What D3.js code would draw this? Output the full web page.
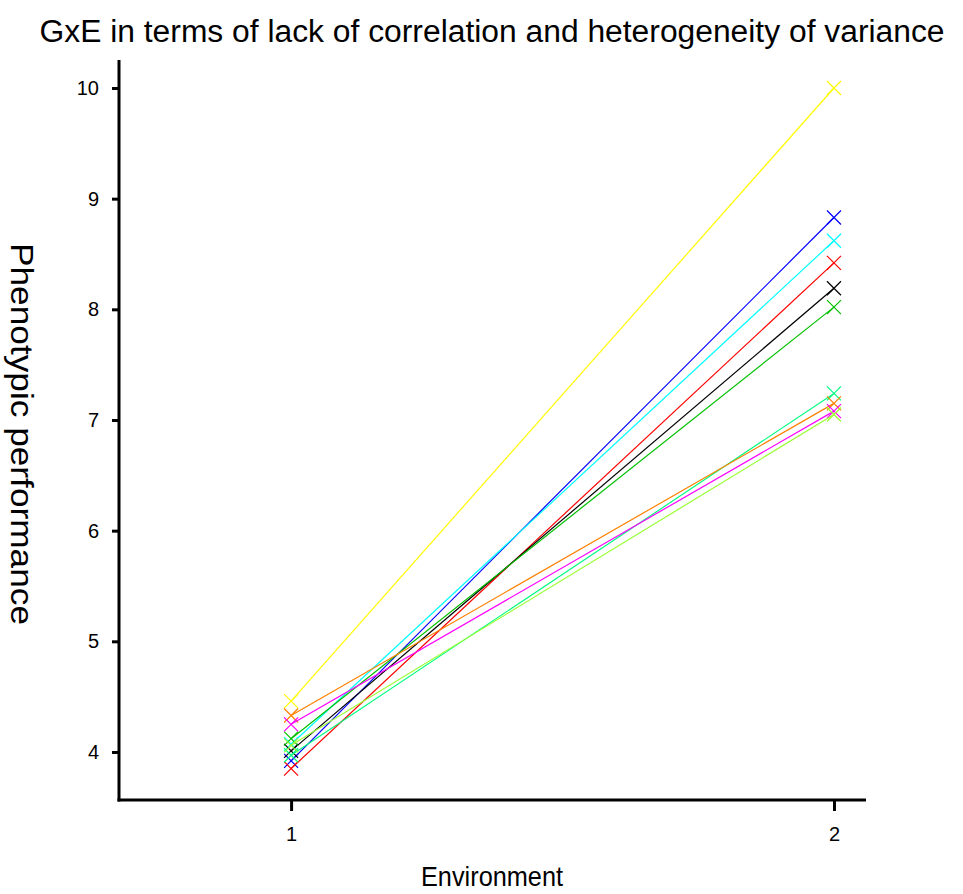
<!DOCTYPE html>
<html><head><meta charset="utf-8">
<script src="https://cdn.jsdelivr.net/npm/d3@7"></script>
<style>body{margin:0;background:#fff}svg{display:block}text{font-family:"Liberation Sans Narrow","Liberation Sans",Arial,sans-serif}</style>
</head><body>
<svg id="c" width="963" height="894"></svg>
<script>
const environments = [1, 2];
const genotypes = ["G1","G2","G3","G4","G5","G6","G7","G8","G9","G10"];
const colors = ["#ffff00","#0000ff","#00ffff","#ff0000","#000000","#00c000","#00ff80","#ff8000","#ff00ff","#99ff33"];
const env1Values = [4.46, 3.92, 4.07, 3.85, 4.01, 4.12, 3.97, 4.33, 4.25, 4.06];
const env2Values = [10.0, 8.83, 8.62, 8.42, 8.19, 8.02, 7.24, 7.15, 7.08, 7.05];
const yTicks = [4,5,6,7,8,9,10];
const xTicks = [1,2];
const title = "GxE in terms of lack of correlation and heterogeneity of variance";
const xLabel = "Environment";
const yLabel = "Phenotypic performance";

const svg = d3.select("#c");
const x = d3.scaleLinear().domain([0.683, 2.059]).range([119, 866]);
const y = d3.scaleLinear().domain([3.566, 10.253]).range([800, 60]);

const yAxis = svg.append("g").attr("transform","translate(119,0)")
  .call(d3.axisLeft(y).tickValues(yTicks).tickSize(7).tickPadding(13).tickFormat(d3.format("d")));
const xAxis = svg.append("g").attr("transform","translate(0,800)")
  .call(d3.axisBottom(x).tickValues(xTicks).tickSize(11).tickPadding(16).tickFormat(d3.format("d")));
[yAxis, xAxis].forEach(a=>{
  a.attr("font-size", null).attr("font-family", null);
  a.select(".domain").attr("stroke","#000").attr("stroke-width",3);
  a.selectAll(".tick line").attr("stroke","#000").attr("stroke-width",3);
  a.selectAll(".tick text").style("font-size","20px").style("font-family","Arial, 'Liberation Sans', sans-serif").attr("fill","#000");
});
yAxis.select(".domain").attr("d", `M0,${y.range()[0]+1.5}V${y.range()[1]}`);
xAxis.select(".domain").attr("d", `M${x.range()[0]-1.5},0H${x.range()[1]}`);

const data = genotypes.map((g,i)=>({g, color: colors[i], vals: [env1Values[i], env2Values[i]]}));
const line = d3.line().x((d,j)=>x(environments[j])).y(d=>y(d));
const gl = svg.append("g");
data.forEach(d=>{
  gl.append("path").attr("d", line(d.vals)).attr("fill","none").attr("stroke", d.color).attr("stroke-width",1.2);
  d.vals.forEach((v,j)=>{
    const cx = x(environments[j]), cy = y(v), s = 7;
    gl.append("path").attr("d",`M${cx-s},${cy-s}L${cx+s},${cy+s}M${cx-s},${cy+s}L${cx+s},${cy-s}`)
      .attr("stroke", d.color).attr("stroke-width",1.2).attr("fill","none");
  });
});

svg.append("text").attr("x", 492).attr("y", 42).attr("text-anchor","middle")
  .style("font-size","31px").attr("textLength", 905).attr("lengthAdjust","spacingAndGlyphs").text(title);
svg.append("text").attr("x", 492).attr("y", 886).attr("text-anchor","middle")
  .style("font-size","28px").attr("textLength", 142).attr("lengthAdjust","spacingAndGlyphs").text(xLabel);
svg.append("text").attr("transform","translate(11,434) rotate(90)").attr("text-anchor","middle")
  .style("font-size","31px").attr("textLength", 382).attr("lengthAdjust","spacingAndGlyphs").text(yLabel);
</script>
</body></html>
